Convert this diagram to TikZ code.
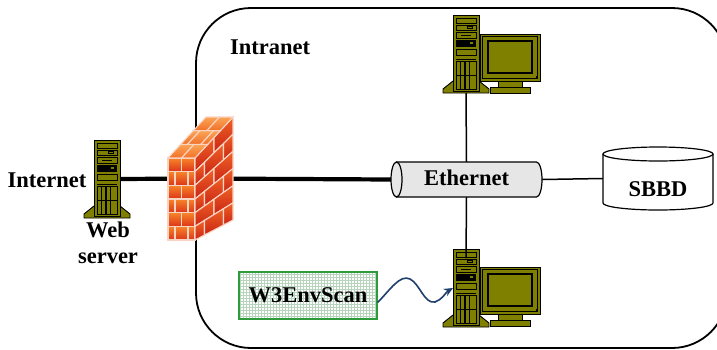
\documentclass[tikz,border=0pt]{standalone}
\usepackage{fontspec}
\setmainfont{Liberation Serif}
\usetikzlibrary{arrows.meta,patterns,calc}

\definecolor{olivepc}{HTML}{808000}
\definecolor{brickA}{HTML}{F7852A}
\definecolor{brickB}{HTML}{DC3418}
\definecolor{sideA}{HTML}{F06226}
\definecolor{sideB}{HTML}{C82414}
\definecolor{topA}{HTML}{FAA556}
\definecolor{topB}{HTML}{F27028}
\definecolor{mortar}{HTML}{FAD4C2}
\definecolor{ethfill}{HTML}{E6E6E6}
\definecolor{scangreen}{HTML}{2E9B3A}
\definecolor{scangrid}{HTML}{B8D4BC}
\definecolor{wirecol}{HTML}{1F3F6F}

\tikzset{
  lbl/.style={font=\fontsize{22.5}{26}\selectfont\bfseries, inner sep=0pt},
  slot/.style={inner sep=0pt, outer sep=0pt},
  thickwire/.style={line width=4.2pt},
  thinwire/.style={line width=1.5pt},
  pcpart/.style={draw=black, line width=0.9pt, fill=olivepc},
  brickline/.style={draw=mortar, line width=1.1pt},
  % tower case, origin at the top left corner of the case
  tower/.pic={
    \path[pcpart] (0,66) -- (-10,74) -- (-10,78) -- (36,78) -- (36,74) -- (26,66) -- cycle;
    \path[pcpart] (0,0) rectangle (26,76);
    \begin{scope}[line width=0.7pt]
      \draw (3,3) rectangle (23,8);
      \draw (3,10) rectangle (23,15);
      \draw (14,11.3) rectangle (19,13.7);
      \draw (3,17) rectangle (23,23);
      \draw (8,20) -- (18,20);
      \fill[black] (3,25) rectangle (23,32);
      \fill[olivepc] (17,26.5) rectangle (20,29);
      \draw (3,34) rectangle (23,40);
      \draw (3,44) -- (23,44);
      \draw (3,46) rectangle (23,74);
      \foreach \vx in {7.5,12,16.5}{\draw[line width=1.3pt] (\vx,46) -- (\vx,74);}
      \draw (3,60) -- (23,60);
    \end{scope}
  },
  % monitor, origin at the top left corner of the frame
  monitor/.pic={
    \path[pcpart] (10,53) rectangle (50,59);
    \path[pcpart] (18,46) rectangle (42,53);
    \path[pcpart] (0,0) rectangle (60,47);
    \draw[line width=0.6pt] (2.5,2.5) rectangle (57.5,44.5);
    \path[pcpart, line width=1.4pt] (8,7) rectangle (52,39);
    \fill[black] (55.5,41.5) rectangle (57.5,43.5);
  }
}

\begin{document}
\begin{tikzpicture}[x=1pt,y=-1pt]
\useasboundingbox (0,0) rectangle (717,349);

% intranet boundary
\draw[line width=1.8pt, rounded corners=55pt] (196,8) rectangle (727,348);
\node[lbl] (intranet) at (270,47) {Intranet};

% placeholders for the equipment
\node[slot, minimum width=26pt, minimum height=78pt] (webtower) at (107,179) {};
\node[slot, minimum width=26pt, minimum height=78pt] (pc1tower) at (466,54) {};
\node[slot, minimum width=26pt, minimum height=78pt] (pc2tower) at (466,288) {};
\node[slot, minimum width=65pt, minimum height=123pt] (fw) at (200.5,178.5) {};
\node[slot, minimum width=151pt, minimum height=35pt] (eth) at (466.5,179.5) {};
\node[slot, minimum width=110pt, minimum height=63pt] (db) at (658,178.5) {};

% wires
\draw[thickwire] (webtower.east) -- (fw.center);
\draw[thickwire] (fw.center) -- (eth.west);
\draw[thinwire] (eth.east) -- (db.west);
\draw[thinwire] (pc1tower.south) -- (eth.north);

% computers
\pic at (webtower.north west) {tower};
\pic at (pc1tower.north west) {tower};
\pic at (480,34) {monitor};
\pic at (pc2tower.north west) {tower};
\pic at (480,267) {monitor};
\coordinate (pc2tap) at ($(pc2tower.north)+(0,9)$);
\draw[thinwire] (eth.south) -- (pc2tap);

% firewall: front face
\foreach \r in {0,...,5}{
  \pgfmathsetmacro\ya{158+\r*82/6}
  \pgfmathsetmacro\yb{\ya+82/6}
  \pgfmathtruncatemacro\odd{mod(\r,2)}
  \ifnum\odd=0 \def\xs{168/181.5,181.5/195}\else\def\xs{168/175,175/188,188/195}\fi
  \foreach \xa/\xb in \xs {
    \shadedraw[brickline, top color=brickA, bottom color=brickB] (\xa,\ya) rectangle (\xb,\yb);
  }
}
% firewall: side face
\foreach \r in {0,...,5}{
  \pgfmathsetmacro\va{\r/6}
  \pgfmathsetmacro\vb{(\r+1)/6}
  \pgfmathtruncatemacro\odd{mod(\r,2)}
  \ifnum\odd=0 \def\us{0/0.5,0.5/1}\else\def\us{0/0.25,0.25/0.75,0.75/1}\fi
  \foreach \ua/\ub in \us {
    \pgfmathsetmacro\xa{195+38*\ua}
    \pgfmathsetmacro\xb{195+38*\ub}
    \pgfmathsetmacro\yaa{(1-\ua)*(158+82*\va)+\ua*(117+103*\va)}
    \pgfmathsetmacro\yba{(1-\ub)*(158+82*\va)+\ub*(117+103*\va)}
    \pgfmathsetmacro\ybb{(1-\ub)*(158+82*\vb)+\ub*(117+103*\vb)}
    \pgfmathsetmacro\yab{(1-\ua)*(158+82*\vb)+\ua*(117+103*\vb)}
    \shadedraw[brickline, top color=sideA, bottom color=sideB]
      (\xa,\yaa) -- (\xb,\yba) -- (\xb,\ybb) -- (\xa,\yab) -- cycle;
  }
}
% firewall: top face
\foreach \r in {0,1,2}{
  \pgfmathsetmacro\ta{\r/3}
  \pgfmathsetmacro\tb{(\r+1)/3}
  \pgfmathtruncatemacro\odd{mod(\r,2)}
  \ifnum\odd=0 \def\ss{0/0.5,0.5/1}\else\def\ss{0/0.25,0.25/0.75,0.75/1}\fi
  \foreach \sa/\sb in \ss {
    \shadedraw[brickline, top color=topA, bottom color=topB]
      ({168+27*\sa+38*\ta},{158-41*\ta}) -- ({168+27*\sb+38*\ta},{158-41*\ta})
      -- ({168+27*\sb+38*\tb},{158-41*\tb}) -- ({168+27*\sa+38*\tb},{158-41*\tb}) -- cycle;
  }
}

% ethernet bus (y axis points down, so angles run clockwise on the page)
\path[fill=ethfill, draw=black, line width=1.2pt]
  (396.5,162) -- (536.5,162) arc[start angle=-90, end angle=90, x radius=5.5, y radius=17.5]
  -- (396.5,197) -- cycle;
\draw[fill=ethfill, line width=1.2pt] (396.5,179.5) ellipse[x radius=5.5, y radius=17.5];
\node[lbl] at ($(eth.center)+(0,-2)$) {Ethernet};

% database
\path[fill=white, draw=black, line width=1.2pt]
  (603,154) -- (603,203) arc[start angle=180, end angle=0, x radius=55, y radius=7]
  -- (713,154);
\draw[fill=white, line width=1.2pt] (658,154) ellipse[x radius=55, y radius=7];
\node[lbl] at (658,189) {SBBD};

% labels around the web server
\node[lbl] (internet) at (47,180) {Internet};
\node[lbl, align=center] (weblbl) at (108,243) {Web\\server};

% scanner box and its link
\node[lbl, draw=scangreen, line width=1.2pt, preaction={fill=white},
      pattern=grid, pattern color=scangrid,
      minimum width=138pt, minimum height=47pt] (scan) at (308,295.5) {W3EnvScan};
\coordinate (scanout) at ($(scan.east)+(0,7)$);
\draw[wirecol, line width=1.6pt, -{Stealth[length=9pt, width=8pt]}]
  (scanout) .. controls (390,290) and (400,274) .. (410,279)
  .. controls (420,284) and (424,304) .. (435,302)
  .. controls (442,300) and (446,292) .. (pc2tower.west);
\end{tikzpicture}
\end{document}
